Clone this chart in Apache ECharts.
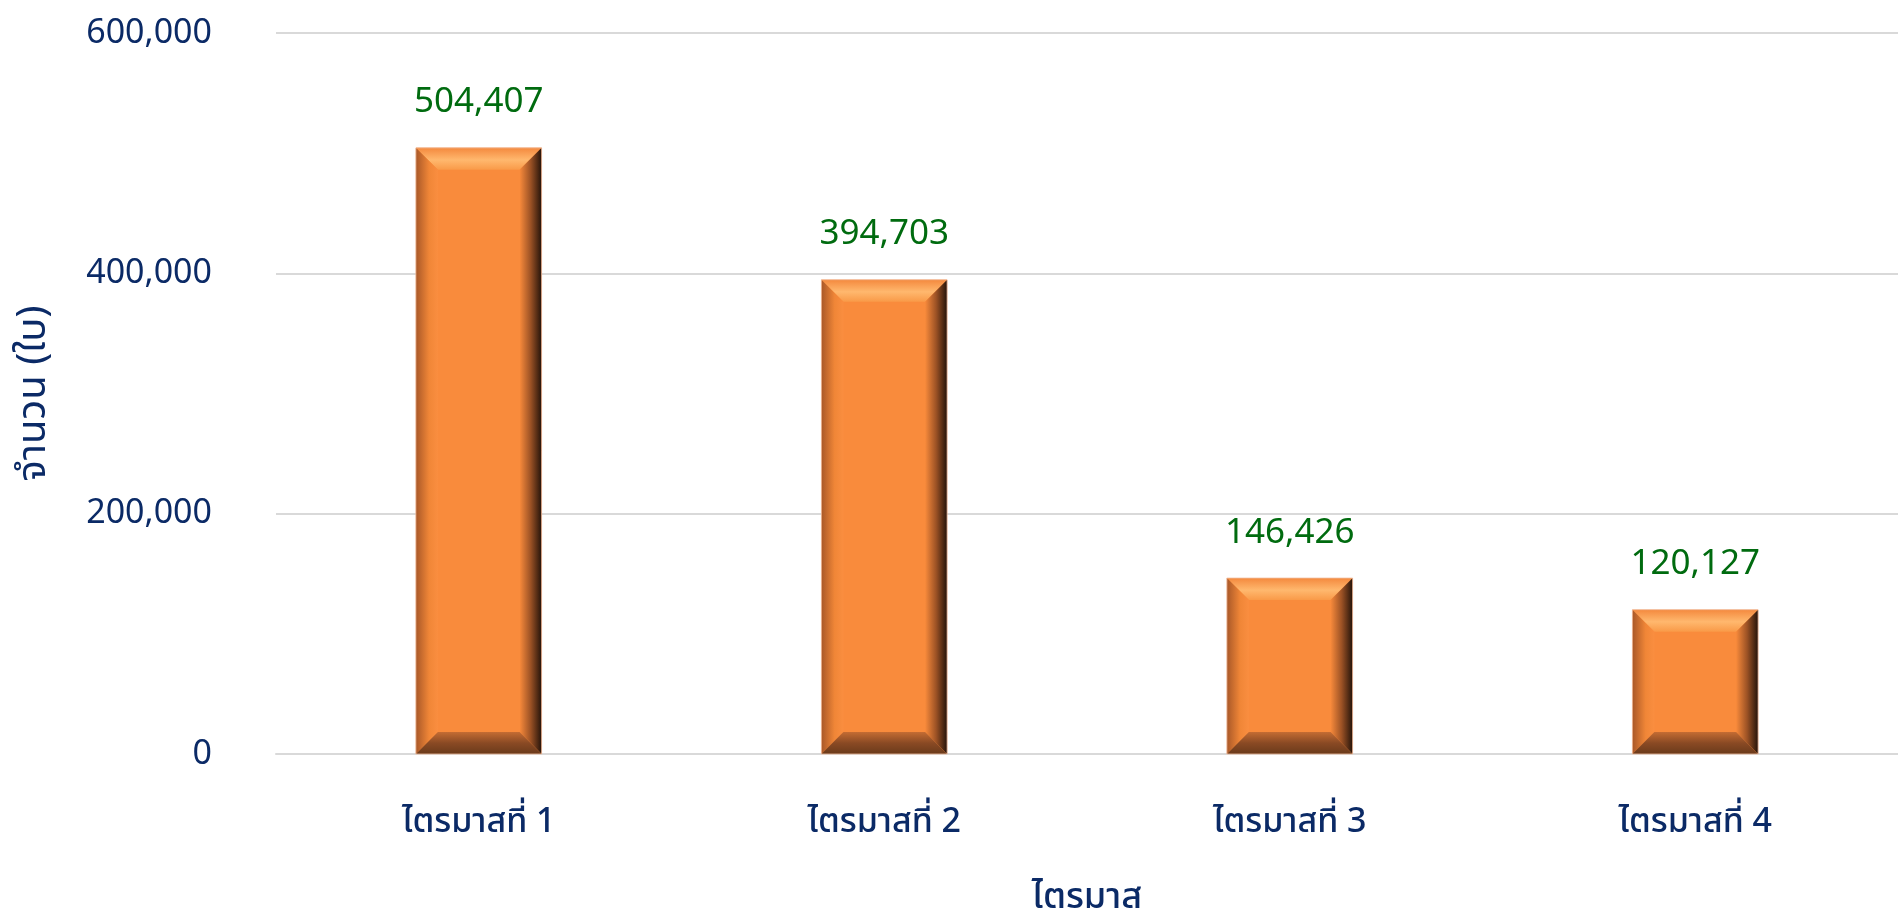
<!DOCTYPE html>
<html>
<head>
<meta charset="utf-8">
<script src="https://cdn.jsdelivr.net/npm/echarts@6/dist/echarts.min.js"></script>
<style>
  html, body { margin: 0; padding: 0; background: #fff; }
  #chart { width: 1898px; height: 915px; }
</style>
</head>
<body>
<div id="chart"></div>
<script>
const categories = ['ไตรมาสที่ 1', 'ไตรมาสที่ 2', 'ไตรมาสที่ 3', 'ไตรมาสที่ 4'];
const values = [504407, 394703, 146426, 120127];
const yTicks = [0, 200000, 400000, 600000];

const FONT = '"Noto Sans", "Noto Sans Thai", "Noto Sans Thai UI", Tahoma, sans-serif';
const NAVY = '#0B2A66';
const LG = echarts.graphic.LinearGradient;

const fmt = v => v.toLocaleString('en-US');

// วาดแท่งแบบมีขอบนูน (bevel) ผ่าน custom series
function renderBevelBar(params, api) {
  const idx = api.value(0);
  const val = api.value(1);
  const top = api.coord([idx, val]);
  const base = api.coord([idx, 0]);
  const w = api.size([1, 0])[0] * 0.31;
  const x0 = top[0] - w / 2, x1 = top[0] + w / 2;
  const y0 = top[1], y1 = base[1];
  const b = Math.min(22, (y1 - y0) / 3);

  const poly = (points, fill) => ({ type: 'polygon', shape: { points }, style: { fill } });
  return {
    type: 'group',
    children: [
      { type: 'rect', shape: { x: x0, y: y0, width: w, height: y1 - y0 }, style: { fill: '#F98B3C' } },
      poly([[x0, y0], [x1, y0], [x1 - b, y0 + b], [x0 + b, y0 + b]],
        new LG(0, 0, 0, 1, [{ offset: 0, color: '#F4893E' }, { offset: 0.55, color: '#FFB86E' }, { offset: 1, color: '#F99A48' }])),
      poly([[x0, y0], [x0 + b, y0 + b], [x0 + b, y1 - b], [x0, y1]],
        new LG(0, 0, 1, 0, [{ offset: 0, color: '#A95828' }, { offset: 0.6, color: '#F08637' }, { offset: 1, color: '#FA8E40' }])),
      poly([[x1, y0], [x1 - b, y0 + b], [x1 - b, y1 - b], [x1, y1]],
        new LG(0, 0, 1, 0, [{ offset: 0, color: '#F88A3B' }, { offset: 0.5, color: '#9C5225' }, { offset: 1, color: '#24130A' }])),
      poly([[x0, y1], [x0 + b, y1 - b], [x1 - b, y1 - b], [x1, y1]],
        new LG(0, 0, 0, 1, [{ offset: 0, color: '#C46C33' }, { offset: 0.5, color: '#8A4A24' }, { offset: 1, color: '#6A3A1B' }])),
      { type: 'rect', shape: { x: x0, y: y0, width: w, height: y1 - y0 }, style: { fill: 'none', stroke: 'rgba(240,190,160,0.8)', lineWidth: 1 } },
      {
        type: 'text',
        style: {
          text: fmt(val), x: top[0], y: y0 - 28,
          align: 'center', verticalAlign: 'bottom',
          fill: '#006B0F', font: '35px ' + FONT
        }
      }
    ]
  };
}

const chart = echarts.init(document.getElementById('chart'), null, { renderer: 'canvas' });
chart.setOption({
  animation: false,
  grid: { left: 276, right: 0, top: 33, bottom: 161, outerBoundsMode: 'none' },
  xAxis: {
    type: 'category',
    data: categories,
    name: 'ไตรมาส',
    nameLocation: 'middle',
    nameGap: 126,
    nameTextStyle: { color: NAVY, fontSize: 36, fontWeight: 500, fontFamily: FONT },
    axisLine: { lineStyle: { color: '#D9D9D9', width: 2 } },
    axisTick: { show: false },
    axisLabel: { color: NAVY, fontSize: 34, fontWeight: 500, fontFamily: FONT, margin: 51 }
  },
  yAxis: {
    type: 'value',
    min: yTicks[0],
    max: yTicks[yTicks.length - 1],
    interval: yTicks[1] - yTicks[0],
    name: 'จำนวน (ใบ)',
    nameLocation: 'middle',
    nameRotate: 90,
    nameGap: 222,
    nameTextStyle: { color: NAVY, fontSize: 40, fontFamily: FONT },
    axisLine: { show: false },
    axisTick: { show: false },
    axisLabel: { color: NAVY, fontSize: 34, fontFamily: FONT, margin: 64, formatter: fmt },
    splitLine: { lineStyle: { color: '#D9D9D9', width: 2 } }
  },
  series: [{
    type: 'custom',
    renderItem: renderBevelBar,
    encode: { x: 0, y: 1 },
    data: values.map((v, i) => [i, v])
  }]
});
</script>
</body>
</html>
